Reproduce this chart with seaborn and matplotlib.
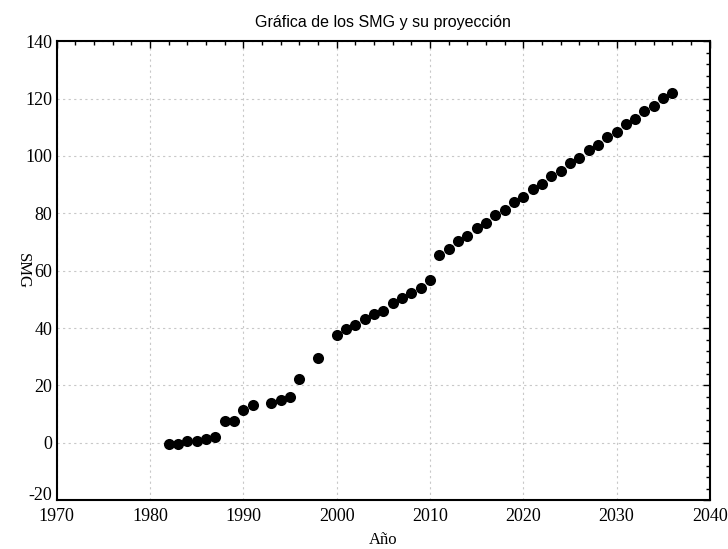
import numpy as np
import pandas as pd
import seaborn as sns
from matplotlib import pyplot as plt
from matplotlib.ticker import MultipleLocator

# datos
anios = [1982, 1983, 1984, 1985, 1986, 1987, 1988, 1989, 1990, 1991,
         1993, 1994, 1995, 1996, 1998,
         2000, 2001, 2002, 2003, 2004, 2005, 2006, 2007, 2008, 2009, 2010,
         2011, 2012, 2013, 2014, 2015, 2016, 2017, 2018, 2019, 2020,
         2021, 2022, 2023, 2024, 2025, 2026, 2027, 2028, 2029, 2030,
         2031, 2032, 2033, 2034, 2035, 2036]
smg = [-0.4, -0.4, 0.5, 0.5, 1.3, 2.1, 7.6, 7.6, 11.3, 13.2,
       14.0, 14.9, 15.8, 22.3, 29.6,
       37.6, 39.5, 41.1, 43.1, 44.9, 45.8, 48.7, 50.3, 52.2, 54.0, 56.6,
       65.6, 67.6, 70.3, 72.2, 74.9, 76.7, 79.5, 81.2, 84.0, 85.7,
       88.6, 90.3, 92.9, 94.9, 97.5, 99.4, 102.0, 103.9, 106.5, 108.3,
       111.2, 112.9, 115.8, 117.5, 120.3, 122.0]
xticks = [1970, 1980, 1990, 2000, 2010, 2020, 2030, 2040]
yticks = [-20, 0, 20, 40, 60, 80, 100, 120, 140]

sns.set_style("white")
plt.rcParams["font.family"] = ["Liberation Serif", "DejaVu Serif"]
plt.rcParams["axes.unicode_minus"] = False
plt.rcParams["text.color"] = "black"
plt.rcParams["axes.labelcolor"] = "black"
plt.rcParams["xtick.color"] = "black"
plt.rcParams["ytick.color"] = "black"

df = pd.DataFrame({"Año": anios, "SMG": smg})

fig = plt.figure(figsize=(7.28, 5.49), dpi=100)
ax = fig.add_axes([0.078, 0.089, 0.897, 0.836])
sns.scatterplot(data=df, x="Año", y="SMG", ax=ax, color="black",
                s=64, edgecolor="black", linewidth=0, zorder=3)

ax.set_xlim(1970, 2040)
ax.set_ylim(-20, 140)
ax.set_xticks(xticks)
ax.set_yticks(yticks)
ax.xaxis.set_minor_locator(MultipleLocator(2))
ax.yaxis.set_minor_locator(MultipleLocator(4))
ax.tick_params(which="both", direction="in", top=True, right=True, labelsize=13)
ax.tick_params(axis="x", pad=6)
ax.tick_params(axis="y", pad=3)
ax.tick_params(which="major", length=5, width=1)
ax.tick_params(which="minor", length=3, width=1)
ax.grid(True, which="major", linestyle=(0, (2, 3)), color="#c8c8c8", linewidth=0.8)
for s in ax.spines.values():
    s.set_color("black")
    s.set_linewidth(1.5)

# el -20 queda un poco por encima del eje, como en el original
ax.get_yticklabels()[0].set_va("baseline")

ax.set_xlabel("Año", fontsize=12, labelpad=5)
ax.set_ylabel("SMG", fontsize=12, rotation=270, labelpad=8, va="bottom")
ax.set_title("Gráfica de los SMG y su proyección", fontsize=11.5,
             family=["Liberation Sans", "DejaVu Sans"], pad=10)

fig.savefig("out.png", dpi=100)
